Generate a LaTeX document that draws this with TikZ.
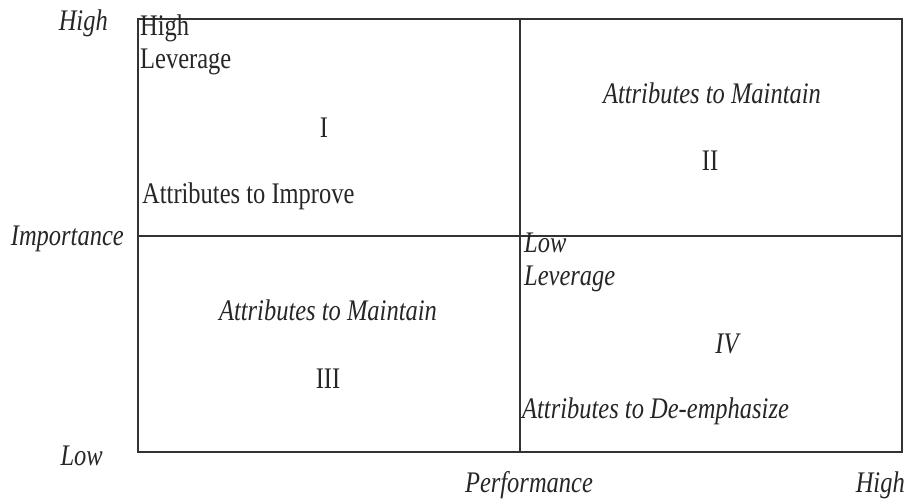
\documentclass[tikz,border=0pt]{standalone}
\usepackage{graphicx}
\usepackage{fontspec}
\setmainfont{Liberation Serif}
% tall, narrow lettering
\newcommand{\tallt}[1]{\scalebox{1}[1.22]{#1}}
\begin{document}
\begin{tikzpicture}[x=1pt,y=-1pt,
  lbl/.style={inner sep=0pt, anchor=base, font=\fontsize{24.5}{30}\selectfont, text=black!85},
  ilbl/.style={lbl, font=\fontsize{24.5}{30}\selectfont\itshape},
  grid/.style={line width=1.6pt, draw=black!80}]
  \useasboundingbox (0,0) rectangle (913,499);
  % quadrant frame and dividers
  \coordinate (tl) at (138,19);
  \coordinate (br) at (902,452);
  \draw[grid] (tl) rectangle (br);
  \coordinate (vt) at (520,19);
  \coordinate (vb) at (520,452);
  \coordinate (hl) at (138,236);
  \coordinate (hr) at (902,236);
  \draw[grid] (vt) -- (vb);
  \draw[grid] (hl) -- (hr);
  % axis labels
  \node[ilbl, anchor=base east] (yhigh) at (108,30) {\tallt{High}};
  \node[ilbl, anchor=base east] (yimp) at (124,245) {\tallt{Importance}};
  \node[ilbl, anchor=base east] (ylow) at (103,465) {\tallt{Low}};
  \node[ilbl] (xperf) at (529,492) {\tallt{Performance}};
  \node[ilbl, anchor=base east] (xhigh) at (905,492) {\tallt{High}};
  % quadrant I
  \node[lbl, anchor=base west] (q1high) at (140,35) {\tallt{High}};
  \node[lbl, anchor=base west] (q1lev) at (140,68) {\tallt{Leverage}};
  \node[lbl] (q1num) at (324,137) {\tallt{I}};
  \node[lbl, anchor=base west] (q1txt) at (142,203) {\tallt{Attributes to Improve}};
  % quadrant II
  \node[ilbl] (q2txt) at (712,103) {\tallt{Attributes to Maintain}};
  \node[lbl] (q2num) at (710,170) {\tallt{II}};
  % quadrant III
  \node[ilbl] (q3txt) at (328,320) {\tallt{Attributes to Maintain}};
  \node[lbl] (q3num) at (328,388) {\tallt{III}};
  % quadrant IV
  \node[ilbl, anchor=base west] (q4low) at (524,252) {\tallt{Low}};
  \node[ilbl, anchor=base west] (q4lev) at (524,285) {\tallt{Leverage}};
  \node[ilbl] (q4num) at (727,353) {\tallt{IV}};
  \node[ilbl, anchor=base west] (q4txt) at (522,418) {\tallt{Attributes to De-emphasize}};
\end{tikzpicture}
\end{document}
